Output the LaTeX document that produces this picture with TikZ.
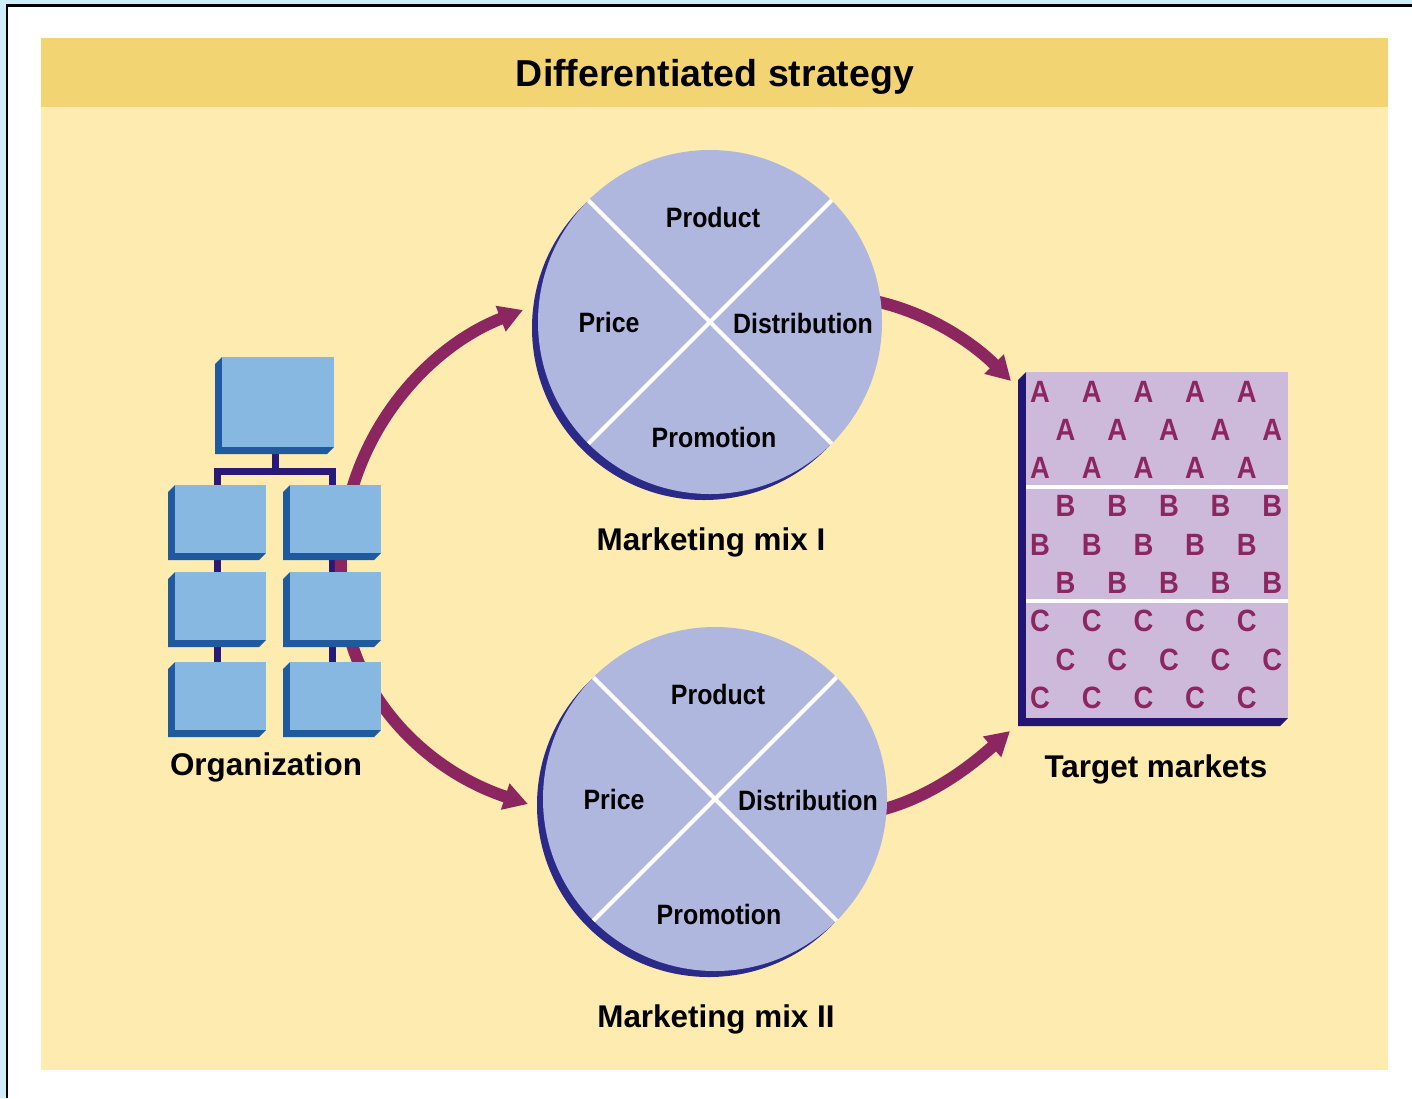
\documentclass[tikz,border=0pt]{standalone}
\usepackage{fontspec}
\setmainfont{Liberation Sans}
\newfontfamily\narrowfont{Liberation Sans}[FakeStretch=0.89]
\usetikzlibrary{arrows.meta}
\definecolor{frame}{HTML}{CDEEF8}
\definecolor{panel}{HTML}{FDEBB0}
\definecolor{header}{HTML}{F2D472}
\definecolor{boxface}{HTML}{86B8E2}
\definecolor{boxedge}{HTML}{1F5A9E}
\definecolor{orgline}{HTML}{2A1A78}
\definecolor{discface}{HTML}{B0B7DF}
\definecolor{discedge}{HTML}{2C2A88}
\definecolor{flow}{HTML}{8C2660}
\definecolor{market}{HTML}{CDBADA}
\definecolor{marketedge}{HTML}{231670}
\tikzset{>={Triangle[length=12pt,width=13pt]}}
% raised box: face from (#1,#2) to (#3,#4), edge pushed down-left
\newcommand\orgbox[4]{%
  \fill[boxedge] (#1,#2) -- ++(-7,7) -- (#1-7,#4+7) -- (#3-7,#4+7) -- (#3,#4) -- cycle;
  \fill[boxface] (#1,#2) rectangle (#3,#4);}

\begin{document}
\begin{tikzpicture}[x=0.5pt, y=-0.5pt,
    flowline/.style={flow, line width=6pt},
    disc/.style={circle, fill=discface, minimum size=172pt, inner sep=0pt, outer sep=0pt},
    discback/.style={disc, fill=discedge},
    cross/.style={white, line width=2pt},
    quad/.style={anchor=base, font=\narrowfont\bfseries\fontsize{14pt}{16pt}\selectfont},
    caption/.style={anchor=base, font=\bfseries\fontsize{15.7pt}{18pt}\selectfont},
    letter/.style={anchor=base, text=flow, inner sep=0pt, font=\narrowfont\bfseries\fontsize{15.4pt}{17pt}\selectfont}]
  % page and panel
  \fill[white] (0,0) rectangle (1412,1098);
  \useasboundingbox (0,0) rectangle (1412,1098);
  \fill[frame] (0,0) rectangle (1412,4);
  \fill[frame] (0,0) rectangle (6,1098);
  \draw[black, line width=1.25pt] (7,1098) -- (7,5.25) -- (1412,5.25);
  \fill[panel] (41,38) rectangle (1388,1070);
  \fill[header] (41,38) rectangle (1388,107);
  \node[anchor=base, font=\bfseries\fontsize{18.75pt}{20pt}\selectfont] (title) at (715,86) {Differentiated strategy};

  % org chart lines
  \draw[orgline, line width=3.5pt] (275,447) -- (275,471);
  \draw[orgline, line width=3.5pt] (217,700) -- (217,471) -- (332,471) -- (332,700);

  % arrow ends
  \coordinate (bend) at (343,600);
  \coordinate (mixIin) at (523,310);
  \coordinate (mixIIin) at (528,804);
  \coordinate (mixIout) at (870,300);
  \coordinate (mixIIout) at (872,812);
  \coordinate (marketsA) at (1011,381);
  \coordinate (marketsC) at (1010,731);

  % arrows
  \draw[flowline, ->] (bend) .. controls (326,462) and (415,352) .. (mixIin);
  \draw[flowline, ->] (bend) .. controls (352,700) and (430,772) .. (mixIIin);
  \draw[flowline, ->] (mixIout) .. controls (930,312) and (975,345) .. (marketsA);
  \draw[flowline, ->] (mixIIout) .. controls (930,800) and (975,762) .. (marketsC);

  % org chart boxes
  \orgbox{222}{357}{334}{447}
  \foreach \y in {485,572,662} {
    \orgbox{175}{\y}{266}{\y+68}
    \orgbox{290}{\y}{381}{\y+68}
  }
  \node[caption] (org) at (266,775) {Organization};

  % marketing mixes
  \foreach \d/\x/\y/\name in {mixI/710/322/Marketing mix I, mixII/715/799/Marketing mix II} {
    \node[discback] (\d back) at (\x-6,\y+6) {};
    \node[disc] (\d) at (\x,\y) {};
    \draw[cross] (\d.135) -- (\d.-45);
    \draw[cross] (\d.45) -- (\d.-135);
    \node[quad] (\d prod) at (\x+3,\y-95) {Product};
    \node[quad] (\d price) at (\x-101,\y+10) {Price};
    \node[quad] (\d dist) at (\x+93,\y+11) {Distribution};
    \node[quad] (\d prom) at (\x+4,\y+125) {Promotion};
    \node[caption] (\d name) at (\x+1,\y+228) {\name};
  }

  % target markets
  \fill[marketedge] (1026,372) -- ++(-8,8) -- (1018,726) -- (1280,726) -- (1288,718) -- cycle;
  \fill[market] (1026,372) rectangle (1288,718);
  \draw[white, line width=2pt] (1026,487) -- (1288,487);
  \draw[white, line width=2pt] (1026,601) -- (1288,601);
  \foreach \r/\ch in {0/A,1/A,2/A,3/B,4/B,5/B,6/C,7/C,8/C}
    \foreach \k in {0,...,4}
      \node[letter] (\ch\r\k) at ({1040+51.7*\k+25.5*mod(\r,2)}, {402+38.3*\r}) {\ch};
  \node[caption] (markets) at (1156,777) {Target markets};
\end{tikzpicture}
\end{document}
